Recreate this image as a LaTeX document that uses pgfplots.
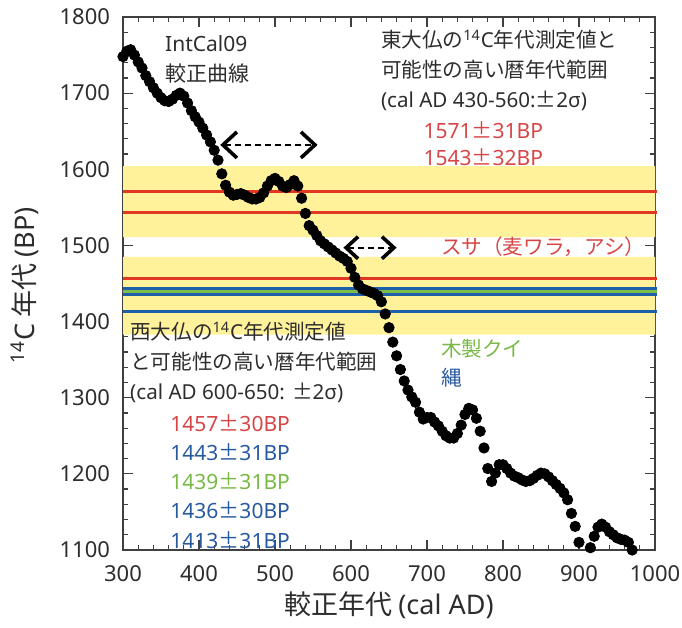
\documentclass[border=0pt]{standalone}
\usepackage{pgfplots}
\pgfplotsset{compat=1.18}
\usepackage{fontspec}
\setmainfont{Noto Sans CJK JP}
\newfontfamily\lat{Noto Sans}
\usetikzlibrary{arrows.meta}
\definecolor{bandyellow}{RGB}{255,242,155}
\definecolor{redline}{RGB}{225,55,35}
\definecolor{blueline}{RGB}{30,95,170}
\definecolor{greenline}{RGB}{125,190,75}
\definecolor{redtext}{RGB}{215,70,70}
\definecolor{bluetext}{RGB}{40,90,160}
\definecolor{greentext}{RGB}{120,185,70}
\definecolor{txt}{RGB}{45,45,45}
\newcommand{\val}[2]{{\lat #1}±{\lat #2BP}}
\pgfplotstableread{
x y
300 1748
305 1755
310 1757
315 1750
320 1741
325 1733
330 1723
335 1715
340 1707
345 1700
350 1694
355 1690
360 1689
365 1692
370 1697
375 1700
380 1696
385 1687
390 1677
395 1669
400 1662
405 1654
410 1645
415 1636
420 1625
425 1612
430 1594
435 1579
440 1570
445 1566
450 1567
455 1568
460 1566
465 1563
470 1561
475 1561
480 1563
485 1569
490 1578
495 1585
500 1588
505 1584
510 1578
515 1576
520 1580
525 1585
530 1578
535 1562
540 1542
545 1526
550 1520
555 1513
560 1506
565 1502
570 1498
575 1494
580 1490
585 1486
590 1483
595 1479
600 1470
605 1458
610 1448
615 1443
620 1441
625 1439
630 1437
635 1434
640 1426
645 1410
650 1392
655 1373
660 1355
665 1337
670 1322
675 1310
680 1301
685 1294
690 1281
695 1272
700 1274
705 1274
710 1268
715 1263
720 1256
725 1250
730 1247
735 1247
740 1253
745 1264
750 1278
755 1286
760 1284
765 1273
770 1256
775 1234
780 1207
785 1190
790 1201
795 1212
800 1212
805 1207
810 1201
815 1197
820 1195
825 1192
830 1190
835 1191
840 1194
845 1198
850 1201
855 1200
860 1196
865 1191
870 1186
875 1181
880 1175
885 1166
890 1148
895 1131
900 1110
915 1103
920 1118
925 1130
930 1134
935 1130
940 1124
945 1120
950 1116
955 1114
960 1113
965 1110
970 1100
}\curve
\begin{document}
\begin{tikzpicture}
\begin{axis}[
  scale only axis, width=266pt, height=266.5pt,
  xmin=300, xmax=1000, ymin=1100, ymax=1800,
  clip=false,
  axis line style={black!75, line width=0.8pt},
  xtick={300,400,...,1000}, ytick={1100,1200,...,1800},
  minor x tick num=4, minor y tick num=4,
  tick align=inside,
  major tick length=5pt, minor tick length=2.5pt,
  tick style={black!75, line width=0.6pt},
  /pgf/number format/1000 sep={},
  /pgf/number format/assume math mode=true,
  ticklabel style={font=\lat\fontsize{11}{13}\selectfont, text=txt},
  xticklabel style={yshift=-4pt},
  yticklabel style={xshift=-3pt},
  xlabel={較正年代 {\lat (cal AD)}},
  ylabel={{\lat\textsuperscript{14}C} 年代 {\lat (BP)}},
  xlabel style={at={(axis description cs:0.5,-0.103)}, anchor=center, font=\fontsize{13.5}{16}\selectfont, text=txt},
  ylabel style={at={(axis description cs:-0.184,0.497)}, anchor=center, font=\fontsize{13.5}{16}\selectfont, text=txt},
]
% bands
\addplot[fill=bandyellow, draw=none] coordinates {(300,1511) (1000,1511) (1000,1604) (300,1604) (300,1511)};
\addplot[fill=bandyellow, draw=none] coordinates {(300,1383) (1000,1383) (1000,1485) (300,1485) (300,1383)};
% measurement lines
\addplot[redline, line width=1.6pt] coordinates {(300,1571) (1003,1571)};
\addplot[redline, line width=1.6pt] coordinates {(300,1543) (1003,1543)};
\addplot[redline, line width=1.6pt] coordinates {(300,1457) (1003,1457)};
\addplot[blueline, line width=1.6pt] coordinates {(300,1443) (1003,1443)};
\addplot[greenline, line width=1.6pt] coordinates {(300,1439) (1003,1439)};
\addplot[blueline, line width=1.6pt] coordinates {(300,1436) (1003,1436)};
\addplot[blueline, line width=1.6pt] coordinates {(300,1413) (1003,1413)};
% curve
\addplot[only marks, mark=*, mark size=2.6pt, black, mark options={fill=black}] table[x=x,y=y] {\curve};
% arrows
\draw[densely dashed, line width=0.9pt, black,
  {Straight Barb[length=7pt,width=13pt,line width=1.8pt]}-{Straight Barb[length=7pt,width=13pt,line width=1.8pt]}]
  (axis cs:428,1632) -- (axis cs:556,1632);
\draw[densely dashed, line width=0.9pt, black,
  {Straight Barb[length=6pt,width=11pt,line width=1.8pt]}-{Straight Barb[length=6pt,width=11pt,line width=1.8pt]}]
  (axis cs:590,1497) -- (axis cs:660,1497);
% texts
\node[anchor=west, align=left, text=txt, font=\fontsize{10.5}{15}\selectfont, inner sep=0pt] at (axis cs:355,1744) {{\lat IntCal09}\\較正曲線};
\node[anchor=west, align=left, text=txt, font=\fontsize{10.3}{15}\selectfont, inner sep=0pt] at (axis cs:639,1730)
  {東大仏の{\lat\textsuperscript{14}C}年代測定値と\\可能性の高い暦年代範囲\\{\lat (cal AD 430-560:}±{\lat 2σ)}};
\node[text=redtext, font=\fontsize{10.5}{13}\selectfont, inner sep=0pt] at (axis cs:774,1652) {\val{1571}{31}};
\node[text=redtext, font=\fontsize{10.5}{13}\selectfont, inner sep=0pt] at (axis cs:774,1616) {\val{1543}{32}};
\node[anchor=west, text=redtext, font=\fontsize{10.3}{13}\selectfont, inner sep=0pt] at (axis cs:718,1498) {スサ（麦ワラ，アシ）};
\node[anchor=west, text=greentext, font=\fontsize{10.3}{13}\selectfont, inner sep=0pt] at (axis cs:718,1365) {木製クイ};
\node[anchor=west, text=bluetext, font=\fontsize{10.3}{13}\selectfont, inner sep=0pt] at (axis cs:718,1326) {縄};
\node[anchor=west, align=left, text=txt, font=\fontsize{10.3}{15}\selectfont, inner sep=0pt] at (axis cs:309,1346)
  {西大仏の{\lat\textsuperscript{14}C}年代測定値\\と可能性の高い暦年代範囲\\{\lat (cal AD 600-650: }±{\lat 2σ)}};
\node[text=redtext, font=\fontsize{10.5}{13}\selectfont, inner sep=0pt] at (axis cs:441,1267) {\val{1457}{30}};
\node[text=bluetext, font=\fontsize{10.5}{13}\selectfont, inner sep=0pt] at (axis cs:441,1229) {\val{1443}{31}};
\node[text=greentext, font=\fontsize{10.5}{13}\selectfont, inner sep=0pt] at (axis cs:441,1191) {\val{1439}{31}};
\node[text=bluetext, font=\fontsize{10.5}{13}\selectfont, inner sep=0pt] at (axis cs:441,1152) {\val{1436}{30}};
\node[text=bluetext, font=\fontsize{10.5}{13}\selectfont, inner sep=0pt] at (axis cs:441,1113) {\val{1413}{31}};
\end{axis}
\pgfresetboundingbox
\path ([shift={(-61.5pt,-39pt)}]current axis.south west) rectangle ([shift={(13.5pt,8.5pt)}]current axis.north east);
\end{tikzpicture}
\end{document}
